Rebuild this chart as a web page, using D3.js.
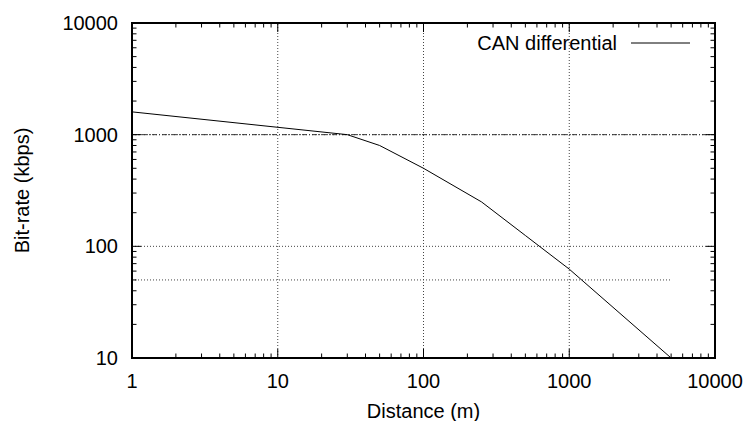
<!DOCTYPE html>
<html>
<head>
<meta charset="utf-8">
<script src="https://cdn.jsdelivr.net/npm/d3@7"></script>
<style>
  body { margin: 0; background: #fff; }
  text { font-family: "Liberation Sans", Arial, Helvetica, sans-serif; fill: #000; }
</style>
</head>
<body>
<div id="chart"></div>
<script>
var distance = [1, 30, 50, 100, 250, 500, 1000, 5000],
    bitrate = [1600, 1000, 800, 500, 250, 125, 62.5, 10],
    refHigh = [[1, 1000], [10000, 1000]],
    refLow = [[1, 50], [5000, 50]],
    xTicks = [1, 10, 100, 1000, 10000],
    yTicks = [10, 100, 1000, 10000],
    xGrid = [10, 100, 1000],
    yGrid = [100, 1000],
    seriesName = "CAN differential";

var width = 747,
    height = 421,
    margin = {top: 23, right: 32, bottom: 63, left: 132};

var x = d3.scaleLog()
    .domain([1, 10000])
    .range([margin.left, width - margin.right]);

var y = d3.scaleLog()
    .domain([10, 10000])
    .range([height - margin.bottom, margin.top]);

var svg = d3.select("#chart").append("svg")
    .attr("width", width)
    .attr("height", height);

// minor ticks 2..9 of each decade
function minors(lo, hi) {
  var out = [];
  for (var p = lo; p < hi; p *= 10) {
    for (var k = 2; k <= 9; k++) out.push(p * k);
  }
  return out;
}

var x0 = x.range()[0], x1 = x.range()[1],
    y0 = y.range()[0], y1 = y.range()[1];

// grid
svg.append("g").selectAll("line")
    .data(xGrid)
    .enter().append("line")
    .attr("x1", function(d) { return x(d); })
    .attr("x2", function(d) { return x(d); })
    .attr("y1", y0)
    .attr("y2", y1)
    .attr("stroke", "#444")
    .attr("stroke-dasharray", "1,2");

svg.append("g").selectAll("line")
    .data(yGrid)
    .enter().append("line")
    .attr("y1", function(d) { return y(d); })
    .attr("y2", function(d) { return y(d); })
    .attr("x1", x0)
    .attr("x2", x1)
    .attr("stroke", "#444")
    .attr("stroke-dasharray", "1,2");

var line = d3.line()
    .x(function(d) { return x(d[0]); })
    .y(function(d) { return y(d[1]); });

svg.append("path")
    .datum(refHigh)
    .attr("d", line)
    .attr("fill", "none")
    .attr("stroke", "#333")
    .attr("stroke-dasharray", "5,2,1,2");

svg.append("path")
    .datum(refLow)
    .attr("d", line)
    .attr("fill", "none")
    .attr("stroke", "#444")
    .attr("stroke-dasharray", "1,2");

svg.append("path")
    .datum(distance.map(function(d, i) { return [d, bitrate[i]]; }))
    .attr("d", line)
    .attr("fill", "none")
    .attr("stroke", "#000")
    .attr("stroke-width", 1);

// ticks on all four sides, pointing inward
var ticks = svg.append("g").attr("stroke", "#000").attr("stroke-width", 1);

function drawXTicks(vals, len) {
  vals.forEach(function(v) {
    ticks.append("line").attr("x1", x(v)).attr("x2", x(v)).attr("y1", y0).attr("y2", y0 - len);
    ticks.append("line").attr("x1", x(v)).attr("x2", x(v)).attr("y1", y1).attr("y2", y1 + len);
  });
}
function drawYTicks(vals, len) {
  vals.forEach(function(v) {
    ticks.append("line").attr("y1", y(v)).attr("y2", y(v)).attr("x1", x0).attr("x2", x0 + len);
    ticks.append("line").attr("y1", y(v)).attr("y2", y(v)).attr("x1", x1).attr("x2", x1 - len);
  });
}
drawXTicks(xTicks, 9);
drawXTicks(minors(1, 10000), 4.5);
drawYTicks(yTicks, 9);
drawYTicks(minors(10, 10000), 4.5);

// frame
svg.append("rect")
    .attr("x", x0)
    .attr("y", y1)
    .attr("width", x1 - x0)
    .attr("height", y0 - y1)
    .attr("fill", "none")
    .attr("stroke", "#000")
    .attr("stroke-width", 2);

// tick labels
svg.append("g").selectAll("text")
    .data(xTicks)
    .enter().append("text")
    .attr("x", function(d) { return x(d); })
    .attr("y", 388)
    .attr("text-anchor", "middle")
    .attr("font-size", 20)
    .text(function(d) { return d; });

svg.append("g").selectAll("text")
    .data(yTicks)
    .enter().append("text")
    .attr("x", 118)
    .attr("y", function(d) { return y(d) + 7; })
    .attr("text-anchor", "end")
    .attr("font-size", 20)
    .text(function(d) { return d; });

// axis titles
svg.append("text")
    .attr("x", (x0 + x1) / 2)
    .attr("y", 418)
    .attr("text-anchor", "middle")
    .attr("font-size", 20)
    .text("Distance (m)");

svg.append("text")
    .attr("transform", "translate(29," + ((y0 + y1) / 2) + ") rotate(-90)")
    .attr("text-anchor", "middle")
    .attr("font-size", 20)
    .text("Bit-rate (kbps)");

// legend
svg.append("text")
    .attr("x", 617)
    .attr("y", 50)
    .attr("text-anchor", "end")
    .attr("font-size", 20)
    .text(seriesName);

svg.append("line")
    .attr("x1", 631)
    .attr("x2", 690)
    .attr("y1", 43)
    .attr("y2", 43)
    .attr("stroke", "#000");
</script>
</body>
</html>
